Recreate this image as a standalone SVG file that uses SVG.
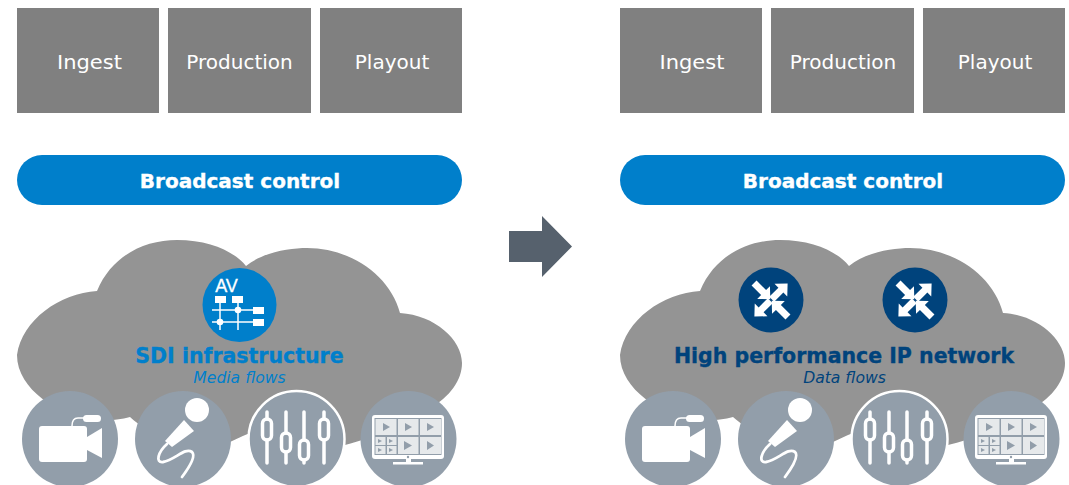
<svg xmlns="http://www.w3.org/2000/svg" xmlns:xlink="http://www.w3.org/1999/xlink" width="1069" height="485" viewBox="0 0 1069 485">
<style>
.box{fill:#808080}
.pill{fill:#007fcb}
.cloud{fill:#949494}
.disc{fill:#929eaa}
.w{fill:#fff}
.wl{fill:none;stroke:#fff;stroke-linecap:round}
.t{font-family:"DejaVu Sans",Verdana,sans-serif;text-anchor:middle}
.lbl{font-size:20px;fill:#fff}
.ctl{font-size:20px;font-weight:bold;fill:#fff;stroke:#fff;stroke-width:.35px}
.h{font-size:20.5px;font-weight:bold;stroke-width:.35px}
.s{font-size:15.6px;font-style:italic}
.tri{fill:#929eaa}
</style>
<defs>
<path id="cloud" class="cloud" d="M17,355C22,320 60,293 97,291C112,255 145,240 177,240C210,240 235,252 246,266C263,252 290,248 307,248C350,248 390,275 400,313C435,315 462,340 462,363C462,380 450,397 430,408C410,425 375,437 345,445C325,452 300,445 295,420C270,425 250,432 230,442C200,452 155,440 130,417C120,420 105,421 90,420C60,415 17,390 17,355Z"/>
<g id="camera">
<circle class="disc" cx="70" cy="439" r="48"/>
<rect class="w" x="39" y="426" width="48" height="36" rx="3"/>
<path class="w" d="M87,437L102,428V458L87,450Z"/>
<path fill="none" stroke="#fff" stroke-width="1.5" d="M72,426C72,420 74,418 78,418H84"/>
<rect class="w" x="83" y="415" width="18" height="7" rx="3.5"/>
</g>
<g id="mic">
<circle class="disc" cx="183" cy="439" r="48"/>
<circle class="w" cx="197" cy="410" r="12"/>
<path class="w" d="M184,420L194,431L172,447L165,441Z"/>
<path class="wl" stroke-width="2.800" d="M167,444C158,452 155,463 163,462C175,460 185,447 192,452C197,457 185,473 182,477"/>
</g>
<g id="mixer">
<circle class="disc" cx="296.500" cy="439" r="48" stroke="#fff" stroke-width="2.500"/>
<g class="wl" stroke-width="3.500">
<path d="M267,412V419M267,440V463M286,412V433M286,452V463M304,412V440M304,460V463M324,412V419M324,440V463"/>
<rect x="262.500" y="419" width="9" height="21" rx="4.500"/>
<rect x="281.500" y="433" width="9" height="19" rx="4.500"/>
<rect x="299.500" y="440" width="9" height="20" rx="4.500"/>
<rect x="319.500" y="419" width="9" height="21" rx="4.500"/>
</g>
</g>
<g id="monitor">
<circle class="disc" cx="408.500" cy="439" r="48"/>
<rect class="w" x="372" y="415" width="72" height="44" rx="3"/>
<rect class="disc" x="374.500" y="418" width="67" height="37"/>
<g fill="#e6e9eb">
<rect x="375.500" y="419" width="21" height="16"/><rect x="398" y="419" width="20.500" height="16"/><rect x="420" y="419" width="21" height="16"/>
<rect x="375.500" y="437" width="10" height="8"/><rect x="387" y="437" width="9.500" height="8"/><rect x="375.500" y="446" width="10" height="8"/><rect x="387" y="446" width="9.500" height="8"/>
<rect x="398" y="437" width="20.500" height="17"/><rect x="420" y="437" width="21" height="17"/>
</g>
<path class="tri" d="M383,423L390,427L383,431ZM405,423L412,427L405,431ZM427,423L434,427L427,431ZM378,439L382,441L378,443ZM389,439L393,441L389,443ZM378,448L382,450L378,452ZM389,448L393,450L389,452ZM404,441L412,445.500L404,450ZM427,441L434,445.500L427,450Z"/>
<circle class="tri" cx="408" cy="457" r="1.200"/>
<rect class="w" x="406" y="459" width="5" height="3"/>
<rect class="w" x="393" y="462" width="30" height="2.500"/>
</g>
<g id="router">
<circle cx="0" cy="0" r="32.500" fill="#00437c"/>
<path class="w" transform="rotate(-45)" d="M1,-3.500L14,-3.500L14,-9L23.500,0L14,9L14,3.500L1,3.500Z"/>
<path class="w" transform="rotate(135)" d="M1,-3.500L14,-3.500L14,-9L23.500,0L14,9L14,3.500L1,3.500Z"/>
<path class="w" transform="rotate(45)" d="M1,0L10.500,-9L10.500,-3.500L24,-3.500L24,3.500L10.500,3.500L10.500,9Z"/>
<path class="w" transform="rotate(225)" d="M1,0L10.500,-9L10.500,-3.500L24,-3.500L24,3.500L10.500,3.500L10.500,9Z"/>
</g>
</defs>
<rect width="1069" height="485" fill="#fff"/>

<g id="left-ingest"><rect class="box" x="17" y="8" width="142" height="105"/><text class="t lbl" x="89.500" y="69" textLength="65" lengthAdjust="spacingAndGlyphs">Ingest</text></g>
<g id="left-production"><rect class="box" x="168" y="8" width="143" height="105"/><text class="t lbl" x="239.500" y="69">Production</text></g>
<g id="left-playout"><rect class="box" x="320" y="8" width="142" height="105"/><text class="t lbl" x="392" y="69">Playout</text></g>
<g id="left-control"><rect class="pill" x="17" y="155" width="445" height="50" rx="25"/><text class="t ctl" x="240" y="188">Broadcast control</text></g>
<g id="left-cloud"><use href="#cloud"/></g>
<g id="left-av">
<circle cx="239.500" cy="305" r="37" fill="#007fcb"/>
<text x="226.500" y="292" font-family="'Liberation Sans',Arial,sans-serif" font-size="18" fill="#fff" stroke="#fff" stroke-width="0.300" text-anchor="middle">AV</text>
<rect class="w" x="215" y="296" width="11" height="7"/><rect class="w" x="232" y="296" width="11" height="7"/>
<rect class="w" x="253" y="307" width="11" height="7"/><rect class="w" x="253" y="319" width="11" height="7"/>
<path stroke="#fff" stroke-width="1.500" fill="none" d="M220,303V330M238,303V330M212,310H253M212,322H253"/>
<circle class="w" cx="238" cy="310" r="3.300"/><circle class="w" cx="220" cy="322" r="3.300"/>
</g>
<g id="left-sdi"><text class="t h" x="239.500" y="363" fill="#007fcb" stroke="#007fcb">SDI infrastructure</text><text class="t s" x="239.500" y="383" fill="#007fcb">Media flows</text></g>
<g id="left-camera"><use href="#camera"/></g>
<g id="left-mic"><use href="#mic"/></g>
<g id="left-mixer"><use href="#mixer"/></g>
<g id="left-monitor"><use href="#monitor"/></g>

<g id="connectors"><path id="transition-arrow" fill="#56616d" d="M509,231H542V216L572,246.500L542,277V262H509Z"/></g>

<g id="right-ingest"><rect class="box" x="620" y="8" width="142" height="105"/><text class="t lbl" x="692" y="69" textLength="65" lengthAdjust="spacingAndGlyphs">Ingest</text></g>
<g id="right-production"><rect class="box" x="771" y="8" width="143" height="105"/><text class="t lbl" x="843" y="69">Production</text></g>
<g id="right-playout"><rect class="box" x="923" y="8" width="142" height="105"/><text class="t lbl" x="995" y="69">Playout</text></g>
<g id="right-control"><rect class="pill" x="620" y="155" width="445" height="50" rx="25"/><text class="t ctl" x="843" y="188">Broadcast control</text></g>
<g id="right-cloud"><use href="#cloud" x="603"/></g>
<g id="right-router-1"><use href="#router" x="771" y="300"/></g>
<g id="right-router-2"><use href="#router" x="915" y="300"/></g>
<g id="right-ip"><text class="t h" x="844" y="363" fill="#00437c" stroke="#00437c">High performance IP network</text><text class="t s" x="844.500" y="383" fill="#00437c">Data flows</text></g>
<g id="right-camera"><use href="#camera" x="603"/></g>
<g id="right-mic"><use href="#mic" x="603"/></g>
<g id="right-mixer"><use href="#mixer" x="603"/></g>
<g id="right-monitor"><use href="#monitor" x="603"/></g>
</svg>
